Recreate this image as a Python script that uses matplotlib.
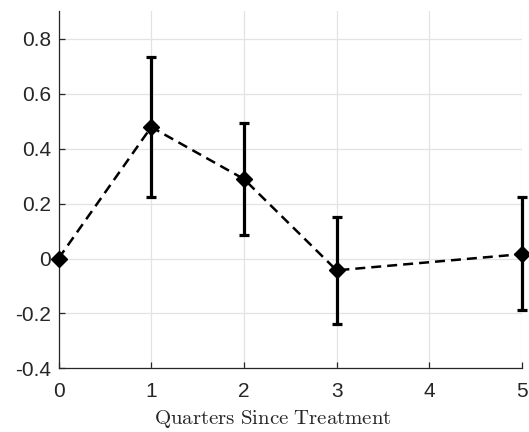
import matplotlib
matplotlib.use("Agg")
import matplotlib.pyplot as plt
import numpy as np

quarters = [0, 1, 2, 3, 5]
estimates = [0.0, 0.478, 0.289, -0.043, 0.016]
ci_upper = [0.0, 0.732, 0.493, 0.152, 0.222]
ci_lower = [0.0, 0.223, 0.086, -0.237, -0.188]
xticks = [0, 1, 2, 3, 4, 5]
yticks = [-0.4, -0.2, 0, 0.2, 0.4, 0.6, 0.8]
ytick_labels = ["-0.4", "-0.2", "0", "0.2", "0.4", "0.6", "0.8"]

plt.rcParams['mathtext.fontset'] = 'cm'
fig = plt.figure(figsize=(5.29, 4.32), dpi=100)
ax = fig.add_axes([0.1106, 0.147, 0.8762, 0.8275])

est = np.array(estimates)
up = np.array(ci_upper)
lo = np.array(ci_lower)
mask = (up - lo) > 0
eb = ax.errorbar(np.array(quarters)[mask], est[mask],
                 yerr=[est[mask] - lo[mask], up[mask] - est[mask]],
                 fmt='none', ecolor='black', elinewidth=2.3, capsize=3.4, capthick=2.3, zorder=3)
for art in eb.get_children():
    art.set_clip_on(False)
ax.plot(quarters, estimates, linestyle=(0, (4, 2.4)), color='black', lw=1.8,
        marker='D', markersize=8.5, markerfacecolor='black', markeredgecolor='black',
        zorder=4, clip_on=False)

ax.set_xlim(0, 5)
ax.set_ylim(-0.4, 0.9)
ax.set_xticks(xticks)
ax.set_yticks(yticks)
ax.set_yticklabels(ytick_labels)
ax.grid(True, color='#e3e3e3', lw=0.9)
ax.set_axisbelow(True)
for s in ['top', 'right']:
    ax.spines[s].set_visible(False)
for s in ['left', 'bottom']:
    ax.spines[s].set_color('#262626')
    ax.spines[s].set_linewidth(0.9)
ax.tick_params(direction='in', length=4, width=0.9, color='#262626',
               labelsize=15, labelcolor='#262626')
ax.tick_params(axis='x', pad=10)
ax.tick_params(axis='y', pad=5.5)
for lab in ax.get_xticklabels() + ax.get_yticklabels():
    lab.set_fontfamily('Liberation Sans')
ax.set_xlabel(r'$\mathrm{Quarters\ Since\ Treatment}$', fontsize=15, color='#262626')
ax.xaxis.set_label_coords(0.463, -0.11)

fig.savefig('out.png', dpi=100)
